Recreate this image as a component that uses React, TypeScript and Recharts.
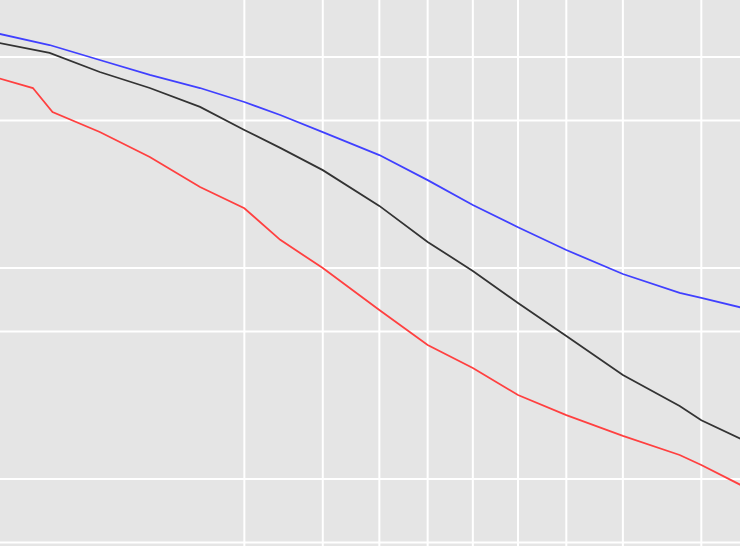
import React from "react";
import { LineChart, Line, XAxis, YAxis, ReferenceLine } from "recharts";

// x = cumulative probability (probit scale), y = value (log scale)
const probs = [0.0035, 0.0088, 0.0182, 0.035, 0.063, 0.1, 0.14, 0.2, 0.3, 0.4, 0.5, 0.6, 0.7, 0.8, 0.877, 0.9, 0.94];
const blueVals = [1.31, 1.14, 0.968, 0.822, 0.713, 0.612, 0.531, 0.441, 0.343, 0.261, 0.199, 0.156, 0.1217, 0.0937, 0.0762, 0.0721, 0.0635];
const blackVals = [1.185, 1.045, 0.849, 0.713, 0.58, 0.451, 0.371, 0.291, 0.197, 0.133, 0.0968, 0.0683, 0.0476, 0.0311, 0.0222, 0.019, 0.0148];

const redProbs = [0.0035, 0.0068, 0.0092, 0.0182, 0.035, 0.063, 0.1, 0.14, 0.2, 0.3, 0.4, 0.5, 0.6, 0.7, 0.8, 0.877, 0.9, 0.94];
const redVals = [0.81, 0.713, 0.549, 0.441, 0.336, 0.242, 0.192, 0.136, 0.1, 0.0632, 0.0432, 0.0336, 0.025, 0.0201, 0.016, 0.013, 0.01165, 0.0089];

const xGridProbs = [0.1, 0.2, 0.3, 0.4, 0.5, 0.6, 0.7, 0.8, 0.9];
const yGridVals = [0.005, 0.01, 0.05, 0.1, 0.5, 1];

const xRange = [0.004, 0.933];
const yRange = [0.004815, 1.863];

// inverse normal CDF (Acklam) for the probit axis
function probit(p: number): number {
  const a = [-39.69683028665376, 220.9460984245205, -275.9285104469687, 138.357751867269, -30.66479806614716, 2.506628277459239];
  const b = [-54.47609879822406, 161.5858368580409, -155.6989798598866, 66.80131188771972, -13.28068155288572];
  const c = [-0.007784894002430293, -0.3223964580411365, -2.400758277161838, -2.549732539343734, 4.374664141464968, 2.938163982698783];
  const d = [0.007784695709041462, 0.3224671290700398, 2.445134137142996, 3.754408661907416];
  const pl = 0.02425;
  if (p < pl) {
    const q = Math.sqrt(-2 * Math.log(p));
    return (((((c[0] * q + c[1]) * q + c[2]) * q + c[3]) * q + c[4]) * q + c[5]) /
      ((((d[0] * q + d[1]) * q + d[2]) * q + d[3]) * q + 1);
  }
  if (p > 1 - pl) {
    const q = Math.sqrt(-2 * Math.log(1 - p));
    return -(((((c[0] * q + c[1]) * q + c[2]) * q + c[3]) * q + c[4]) * q + c[5]) /
      ((((d[0] * q + d[1]) * q + d[2]) * q + d[3]) * q + 1);
  }
  const q = p - 0.5;
  const r = q * q;
  return ((((((a[0] * r + a[1]) * r + a[2]) * r + a[3]) * r + a[4]) * r + a[5]) * q) /
    (((((b[0] * r + b[1]) * r + b[2]) * r + b[3]) * r + b[4]) * r + 1);
}

const toPoints = (ps: number[], vs: number[]) => ps.map((p, i) => ({ z: probit(p), v: vs[i] }));

const blueData = toPoints(probs, blueVals);
const blackData = toPoints(probs, blackVals);
const redData = toPoints(redProbs, redVals);

export default function App() {
  return (
    <div style={{ position: "absolute", top: 0, left: 0, width: 740, height: 546, background: "#e5e5e5" }}>
      <LineChart width={740} height={546} margin={{ top: 0, right: 0, bottom: 0, left: 0 }}>
        <XAxis
          type="number"
          dataKey="z"
          domain={[probit(xRange[0]), probit(xRange[1])]}
          allowDataOverflow
          hide
        />
        <YAxis type="number" dataKey="v" scale="log" domain={yRange} allowDataOverflow hide />
        {xGridProbs.map((p) => (
          <ReferenceLine key={"x" + p} x={probit(p)} stroke="#ffffff" strokeWidth={2} />
        ))}
        {yGridVals.map((v) => (
          <ReferenceLine key={"y" + v} y={v} stroke="#ffffff" strokeWidth={2} />
        ))}
        <Line data={blueData} dataKey="v" stroke="#4040ff" strokeWidth={1.8} dot={false} activeDot={false} isAnimationActive={false} />
        <Line data={blackData} dataKey="v" stroke="#333333" strokeWidth={1.8} dot={false} activeDot={false} isAnimationActive={false} />
        <Line data={redData} dataKey="v" stroke="#ff4040" strokeWidth={1.8} dot={false} activeDot={false} isAnimationActive={false} />
      </LineChart>
    </div>
  );
}
